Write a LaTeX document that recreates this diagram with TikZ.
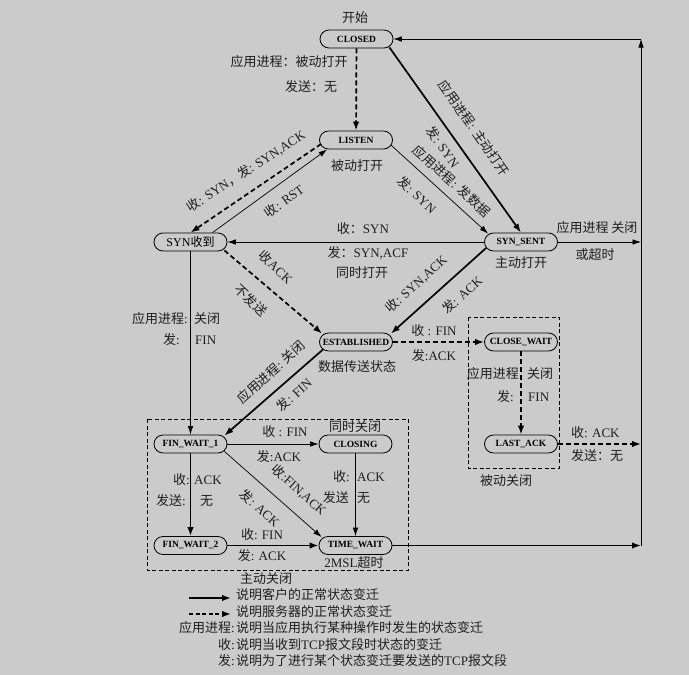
\documentclass[tikz,border=0pt]{standalone}
\usepackage{fontspec}
\setmainfont{Liberation Serif}
\newfontfamily\cjk{Noto Sans CJK SC}
\usetikzlibrary{arrows.meta,calc}
\newcommand\zh[1]{{\cjk #1}}
\definecolor{bg}{RGB}{203,203,203}
\definecolor{txt}{RGB}{30,30,30}
\begin{document}
\begin{tikzpicture}[x=1pt,y=-1pt,
  st/.style={draw, line width=0.8pt, rounded corners=9pt, minimum width=73pt, minimum height=18pt, inner sep=0pt, font=\fontsize{9.5}{10}\selectfont\bfseries},
  lab/.style={font=\fontsize{13}{14}\selectfont, inner sep=0pt, text=txt},
  thickarr/.style={line width=1.7pt, -{Latex[length=9pt,width=6.5pt]}},
  thinarr/.style={line width=0.7pt, -{Latex[length=8.5pt,width=5.5pt]}},
  dasharr/.style={line width=1.7pt, dash pattern=on 5pt off 3pt, -{Latex[length=9pt,width=6.5pt]}},
  boxline/.style={line width=0.7pt, dash pattern=on 4pt off 2.5pt},
]
\fill[bg] (0,0) rectangle (689,675);
\useasboundingbox (0,0) rectangle (689,675);

% states
\node[st] (closed) at (356.5,39) {CLOSED};
\node[st] (listen) at (356,140) {LISTEN};
\node[st, font=\fontsize{12}{13}\selectfont] (synrcvd) at (190.5,242) {SYN\zh{收到}};
\node[st] (synsent) at (521,242) {SYN\_SENT};
\node[st] (estab) at (356,342) {ESTABLISHED};
\node[st] (closewait) at (521,342) {CLOSE\_WAIT};
\node[st] (lastack) at (521,444) {LAST\_ACK};
\node[st] (fw1) at (190.5,444) {FIN\_WAIT\_1};
\node[st] (closing) at (355.5,444) {CLOSING};
\node[st] (fw2) at (190.5,545.5) {FIN\_WAIT\_2};
\node[st] (tw) at (355.5,545.5) {TIME\_WAIT};

% right side coordinates
\coordinate (rtop) at (641,39);
\coordinate (rss) at (641,242);
\coordinate (rla) at (641,444);
\coordinate (rtw) at (641,545.5);

% dashed boxes
\draw[boxline] (468,317) rectangle (559,468);
\draw[boxline] (147,419) rectangle (408,570);

% connectors
\draw[dasharr] (closed) -- (listen);
\draw[thickarr] ($(closed.south east)+(-4,-1)$) -- (synsent.north);
\draw[thinarr] ($(listen.east)+(-2,5)$) -- ($(synsent.north west)+(4,1)$);
\draw[thinarr] (synsent) -- (synrcvd);
\draw[dasharr] ($(listen.west)+(2,4)$) -- (synrcvd.north);
\draw[thinarr] ($(synrcvd.north)+(22,0)$) -- ($(listen.south west)+(8,0)$);
\draw[dasharr] ($(synrcvd.south east)+(-3,-1)$) -- ($(estab.north west)+(3,1)$);
\draw[thickarr] ($(synsent.west)+(2,6)$) -- ($(estab.north east)+(-2,1)$);
\draw[thinarr] (synrcvd) -- (fw1);
\draw[thickarr] ($(estab.south west)+(4,-2)$) -- ($(fw1.north east)+(-3,1)$);
\draw[dasharr] (estab) -- (closewait);
\draw[dasharr] (closewait) -- (lastack);
\draw[dasharr] (lastack) -- (rla);
\draw[thinarr] (fw1) -- (closing);
\draw[thinarr] ($(fw1.south east)+(-3,-2)$) -- ($(tw.north west)+(3,1)$);
\draw[thickarr] (fw1) -- (fw2);
\draw[thinarr] (closing) -- (tw);
\draw[thickarr] (fw2) -- (tw);
\draw[thickarr] (tw) -- (rtw);
\draw[thinarr] (synsent) -- (rss);
\draw[thinarr] (rtw) -- (rtop);
\draw[thinarr] (rtop) -- (closed);

% labels
\node[lab] (t1) at (355,18) {\zh{开始}};
\node[lab] (t2) at (289,62) {\zh{应用进程：被动打开}};
\node[lab] (t3) at (311,87) {\zh{发送：无}};
\node[lab] (t4) at (357,166) {\zh{被动打开}};
\node[lab] (t5) at (521,263) {\zh{主动打开}};
\node[lab] (t6) at (597,228) {\zh{应用进程 关闭}};
\node[lab] (t7) at (595,255) {\zh{或超时}};
\node[lab] (t8) at (363,229) {\zh{收：}SYN};
\node[lab] (t9) at (368,253) {\zh{发：}SYN,ACF};
\node[lab] (t10) at (362,273) {\zh{同时打开}};
\node[lab, anchor=east] (t11a) at (188,319) {\zh{应用进程}:};
\node[lab, anchor=west] (t11b) at (194,319) {\zh{关闭}};
\node[lab, anchor=east] (t12a) at (180,340) {\zh{发}:};
\node[lab, anchor=west] (t12b) at (195,340) {FIN};
\node[lab] (t13) at (434,331) {\zh{收} : FIN};
\node[lab] (t14) at (434,356) {\zh{发}:ACK};
\node[lab] (t15) at (357,367) {\zh{数据传送状态}};
\node[lab, anchor=east] (t16a) at (519,374) {\zh{应用进程}};
\node[lab, anchor=west] (t16b) at (527,374) {\zh{关闭}};
\node[lab, anchor=east] (t17a) at (514,397) {\zh{发}:};
\node[lab, anchor=west] (t17b) at (528,397) {FIN};
\node[lab, anchor=west] (t18) at (571,433) {\zh{收}: ACK};
\node[lab, anchor=west] (t19) at (571,456) {\zh{发送：无}};
\node[lab] (t20) at (285,432) {\zh{收} : FIN};
\node[lab] (t21) at (279,457) {\zh{发}:ACK};
\node[lab] (t22) at (355,427) {\zh{同时关闭}};
\node[lab, anchor=east] (t23a) at (190,480) {\zh{收}:};
\node[lab, anchor=west] (t23b) at (194,480) {ACK};
\node[lab, anchor=east] (t24a) at (186,501) {\zh{发送}:};
\node[lab, anchor=west] (t24b) at (200,501) {\zh{无}};
\node[lab, anchor=east] (t25a) at (350,477) {\zh{收}:};
\node[lab, anchor=west] (t25b) at (357,477) {ACK};
\node[lab, anchor=east] (t26a) at (349,498) {\zh{发送}};
\node[lab, anchor=west] (t26b) at (357,498) {\zh{无}};
\node[lab, rotate=-42] (t27) at (299,490) {\zh{收}:FIN,ACK};
\node[lab, rotate=-42] (t28) at (260,508) {\zh{发}: ACK};
\node[lab] (t29) at (262,535) {\zh{收}: FIN};
\node[lab] (t30) at (262,556) {\zh{发}: ACK};
\node[lab] (t31) at (354,563) {2MSL\zh{超时}};
\node[lab] (t32) at (506,481) {\zh{被动关闭}};
\node[lab] (t33) at (266,579) {\zh{主动关闭}};
\node[lab, rotate=-55] (t34) at (474,128) {\zh{应用进程}: \zh{主动打开}};
\node[lab, rotate=-55] (t35) at (443,147) {\zh{发}: SYN};
\node[lab, rotate=-42] (t36) at (452,181) {\zh{应用进程}: \zh{发数据}};
\node[lab, rotate=-42] (t37) at (417,195) {\zh{发}: SYN};
\node[lab, rotate=33] (t38) at (246,171) {\zh{收}: SYN\zh{，发}: SYN,ACK};
\node[lab, rotate=36] (t39) at (284,201) {\zh{收}: RST};
\node[lab, rotate=-43] (t40) at (276,267) {\zh{收}ACK};
\node[lab, rotate=-43] (t41) at (251,300) {\zh{不发送}};
\node[lab, rotate=42] (t42) at (416,284) {\zh{收}: SYN,ACK};
\node[lab, rotate=42] (t43) at (462,295) {\zh{发}: ACK};
\node[lab, rotate=42] (t44) at (271,372) {\zh{应用进程}: \zh{关闭}};
\node[lab, rotate=42] (t45) at (294,395) {\zh{发}: FIN};

% legend
\coordinate (la1) at (189,598);
\coordinate (lb1) at (231,598);
\coordinate (la2) at (189,614);
\coordinate (lb2) at (231,614);
\draw[thickarr] (la1) -- (lb1);
\draw[dasharr, dash pattern=on 4pt off 2.5pt] (la2) -- (lb2);
\node[lab, anchor=west] (g1) at (236,595) {\zh{说明客户的正常状态变迁}};
\node[lab, anchor=west] (g2) at (236,612) {\zh{说明服务器的正常状态变迁}};
\node[lab, anchor=east] (g3a) at (235,628) {\zh{应用进程}:};
\node[lab, anchor=west] (g3b) at (236,628) {\zh{说明当应用执行某种操作时发生的状态变迁}};
\node[lab, anchor=east] (g4a) at (235,645) {\zh{收}:};
\node[lab, anchor=west] (g4b) at (236,645) {\zh{说明当收到}TCP\zh{报文段时状态的变迁}};
\node[lab, anchor=east] (g5a) at (235,661) {\zh{发}:};
\node[lab, anchor=west] (g5b) at (236,661) {\zh{说明为了进行某个状态变迁要发送的}TCP\zh{报文段}};
\end{tikzpicture}
\end{document}
